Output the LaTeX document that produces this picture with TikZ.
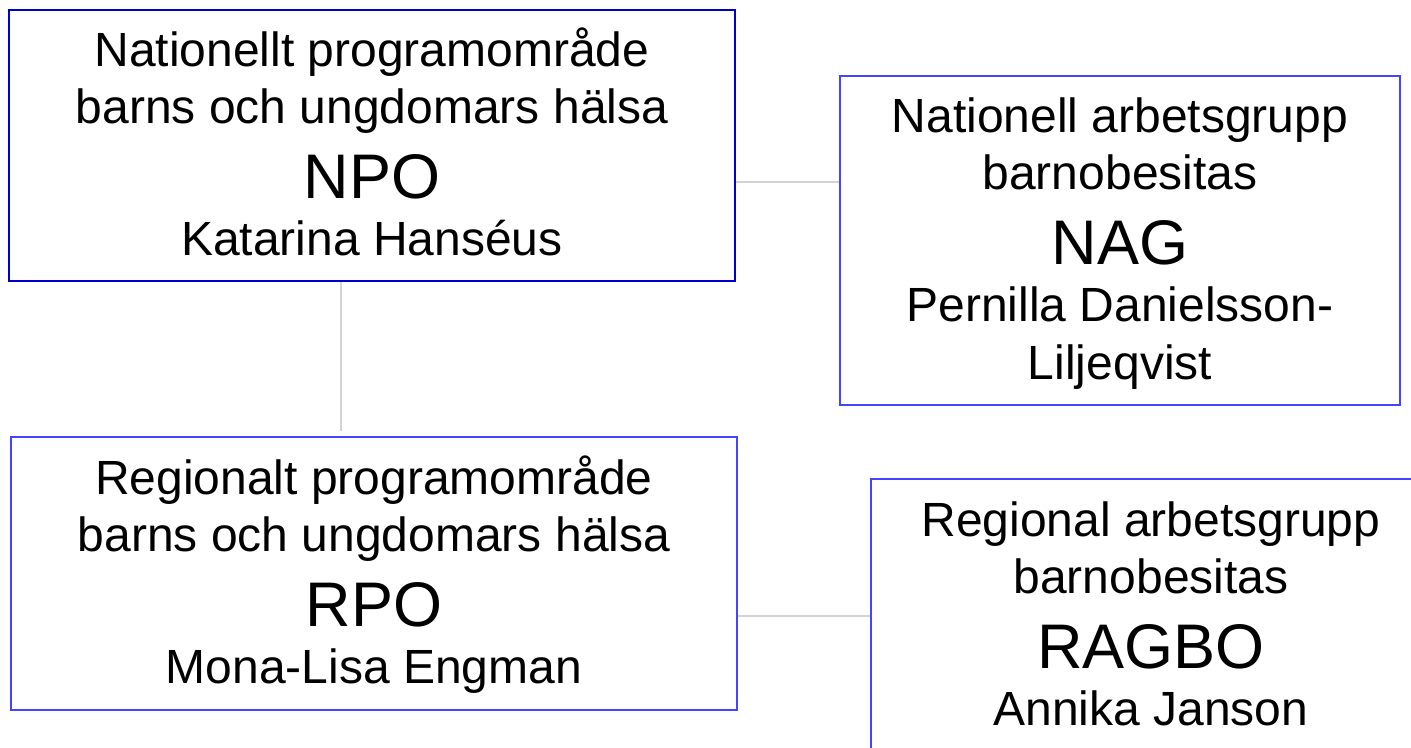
\documentclass[tikz,border=0pt]{standalone}
\usepackage{fontspec}
\setmainfont{Liberation Sans}
\usepackage{tikz}
\definecolor{npoblue}{RGB}{0,0,204}
\definecolor{boxblue}{RGB}{68,68,255}
\definecolor{linegray}{RGB}{211,211,211}
\newcommand{\normtxt}{\fontsize{24}{28.5}\selectfont}
\newcommand{\abbrtxt}{\fontsize{31.5}{37.5}\selectfont}
\newcommand{\orgtext}[3]{\parbox[c][#2][t]{#1}{\centering\normtxt\rule{0pt}{28.5pt}#3}}
\tikzstyle{orgbox} = [draw=boxblue, line width=1pt, rectangle, inner sep=0pt]
\tikzstyle{link} = [draw=linegray, line width=1pt]

\begin{document}
\begin{tikzpicture}
    \useasboundingbox (0,0) rectangle (705.5pt,-374pt);
    \clip (0,0) rectangle (705.5pt,-374pt);
    \node [orgbox, draw=npoblue] at (186pt,-72.75pt) (npo)
        {\orgtext{363pt}{135.5pt}{Nationellt programområde\\ barns och ungdomars hälsa\par
        \abbrtxt NPO\par \normtxt Katarina Hanséus\par}};
    \node [orgbox, right of=npo, node distance=374pt, yshift=-47.5pt] (nag)
        {\orgtext{280pt}{164.5pt}{Nationell arbetsgrupp\\ barnobesitas\par
        \abbrtxt NAG\par \normtxt Pernilla Danielsson-\\ Liljeqvist\par}};
    \node [orgbox, below of=npo, node distance=214pt, xshift=1pt] (rpo)
        {\orgtext{363pt}{136.5pt}{Regionalt programområde\\ barns och ungdomars hälsa\par
        \abbrtxt RPO\par \normtxt Mona-Lisa Engman\par}};
    \node [orgbox, right of=rpo, node distance=388.5pt, yshift=-35pt] (ragbo)
        {\orgtext{280pt}{164.5pt}{Regional arbetsgrupp\\ barnobesitas\par
        \abbrtxt RAGBO\par \normtxt Annika Janson\par}};
    \draw [link] ([yshift=-18.25pt]npo.east) -- ([yshift=-18.25pt]npo.east -| nag.west);
    \draw [link, shorten >=2.5pt] ([xshift=-15.5pt]npo.south) -- ([xshift=-15.5pt]npo.south |- rpo.north);
    \draw [link] ([yshift=-21.25pt]rpo.east) -- ([yshift=-21.25pt]rpo.east -| ragbo.west);
\end{tikzpicture}
\end{document}
